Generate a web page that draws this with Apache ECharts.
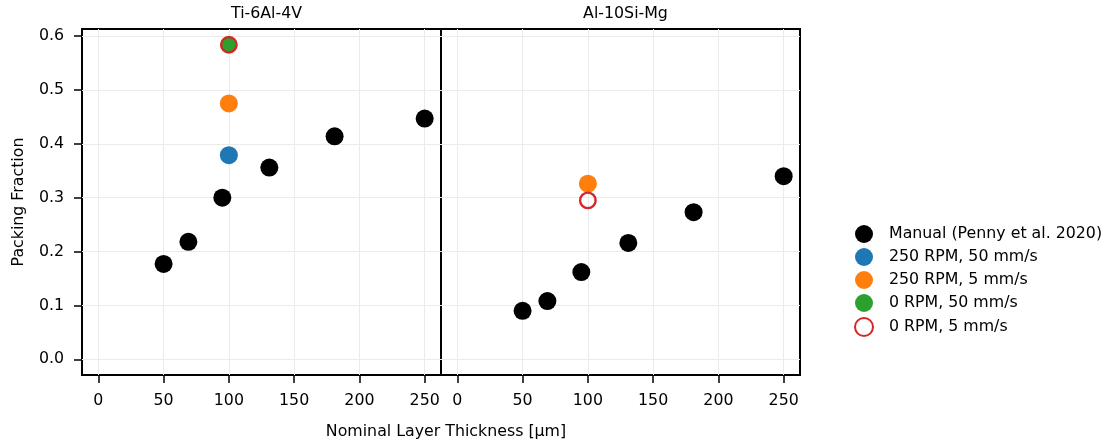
<!DOCTYPE html>
<html>
<head>
<meta charset="utf-8">
<script src="https://cdn.jsdelivr.net/npm/echarts@6/dist/echarts.min.js"></script>
<style>
  html, body { margin: 0; padding: 0; background: #fff; }
  #main { width: 1108px; height: 445px; }
</style>
</head>
<body>
<div id="main"></div>
<script>
// tick positions
const xTicks = [0, 50, 100, 150, 200, 250]
const yTicks = [0, 0.1, 0.2, 0.3, 0.4, 0.5, 0.6]

// panel titles and legend names
const panels = ['Ti-6Al-4V', 'Al-10Si-Mg']
const names = ['Manual (Penny et al. 2020)', '250 RPM, 50 mm/s', '250 RPM, 5 mm/s', '0 RPM, 50 mm/s', '0 RPM, 5 mm/s']

// Ti-6Al-4V
const tiManualX = [50, 69, 95, 131, 181, 250]
const tiManualY = [0.177, 0.218, 0.300, 0.356, 0.414, 0.447]
const ti250rpm50 = [[100, 0.379]]
const ti250rpm5 = [[100, 0.475]]
const ti0rpm50 = [[100, 0.584]]
const ti0rpm5 = [[100, 0.584]]

// Al-10Si-Mg
const alManualX = [50, 69, 95, 131, 181, 250]
const alManualY = [0.090, 0.108, 0.162, 0.216, 0.273, 0.340]
const al250rpm5 = [[100, 0.326]]
const al0rpm5 = [[100, 0.295]]

const colors = ['#000000', '#1f77b4', '#ff7f0e', '#2ca02c', '#d62728']
const font = 'DejaVu Sans'
const fs = 15.8

function zip (xs, ys) {
  return xs.map((x, i) => [x, ys[i]])
}

function dots (name, idx, data, color, size) {
  return {
    name: name,
    type: 'scatter',
    xAxisIndex: idx,
    yAxisIndex: idx,
    data: data,
    symbolSize: size || 18,
    z: 2,
    itemStyle: { color: color, opacity: 1 }
  }
}

function ring (name, idx, data) {
  return {
    name: name,
    type: 'scatter',
    xAxisIndex: idx,
    yAxisIndex: idx,
    data: data,
    symbolSize: 15.5,
    z: 5,
    itemStyle: { color: 'rgba(255,255,255,0)', borderColor: colors[4], borderWidth: 2.4, opacity: 1 }
  }
}

function xAxisFor (idx) {
  return {
    type: 'value',
    gridIndex: idx,
    min: -12.5,
    max: 262.5,
    axisLine: { show: false, onZero: false },
    splitLine: { show: true, lineStyle: { color: '#ebebeb', width: 1 } },
    axisTick: { show: true, customValues: xTicks, length: 8, lineStyle: { color: '#000', width: 1.5 } },
    axisLabel: { customValues: xTicks, margin: 18, color: '#000', fontFamily: font, fontSize: fs }
  }
}

function yAxisFor (idx) {
  return {
    type: 'value',
    gridIndex: idx,
    min: -0.0292,
    max: 0.6132,
    name: idx === 0 ? 'Packing Fraction' : '',
    nameLocation: 'middle',
    nameGap: 55,
    nameTextStyle: { color: '#000', fontFamily: font, fontSize: fs },
    axisLine: { show: false, onZero: false },
    splitLine: { show: true, lineStyle: { color: '#ebebeb', width: 1 } },
    axisTick: { show: idx === 0, customValues: yTicks, length: 8, lineStyle: { color: '#000', width: 1.5 } },
    axisLabel: {
      show: idx === 0,
      customValues: yTicks,
      margin: 18,
      color: '#000',
      fontFamily: font,
      fontSize: fs,
      formatter: v => v.toFixed(1)
    }
  }
}

const option = {
  animation: false,
  textStyle: { fontFamily: font },
  title: [
    { text: panels[0], left: 261.5, top: 1, textAlign: 'center', textStyle: { fontWeight: 'normal', fontFamily: font, fontSize: fs, color: '#000' } },
    { text: panels[1], left: 620.5, top: 1, textAlign: 'center', textStyle: { fontWeight: 'normal', fontFamily: font, fontSize: fs, color: '#000' } },
    { text: 'Nominal Layer Thickness [µm]', left: 441, top: 419, textAlign: 'center', textStyle: { fontWeight: 'normal', fontFamily: font, fontSize: fs, color: '#000' } }
  ],
  legend: {
    orient: 'vertical',
    left: 849,
    top: 220,
    itemWidth: 18,
    itemHeight: 18,
    itemGap: 5,
    data: names.map(n => ({ name: n, icon: 'circle' })),
    textStyle: { color: '#000', fontFamily: font, fontSize: fs, padding: [0, 0, 0, 11] }
  },
  grid: [
    { left: 82, right: 667, top: 29, bottom: 70, show: true, borderColor: '#000', borderWidth: 2, backgroundColor: 'transparent' },
    { left: 441, right: 308, top: 29, bottom: 70, show: true, borderColor: '#000', borderWidth: 2, backgroundColor: 'transparent' }
  ],
  xAxis: [xAxisFor(0), xAxisFor(1)],
  yAxis: [yAxisFor(0), yAxisFor(1)],
  series: [
    dots(names[0], 0, zip(tiManualX, tiManualY), colors[0]),
    dots(names[1], 0, ti250rpm50, colors[1]),
    dots(names[2], 0, ti250rpm5, colors[2]),
    dots(names[3], 0, ti0rpm50, colors[3], 15),
    ring(names[4], 0, ti0rpm5),
    dots(names[0], 1, zip(alManualX, alManualY), colors[0]),
    dots(names[2], 1, al250rpm5, colors[2]),
    ring(names[4], 1, al0rpm5)
  ]
}

const myChart = echarts.init(document.getElementById('main'))
myChart.setOption(option)
</script>
</body>
</html>
